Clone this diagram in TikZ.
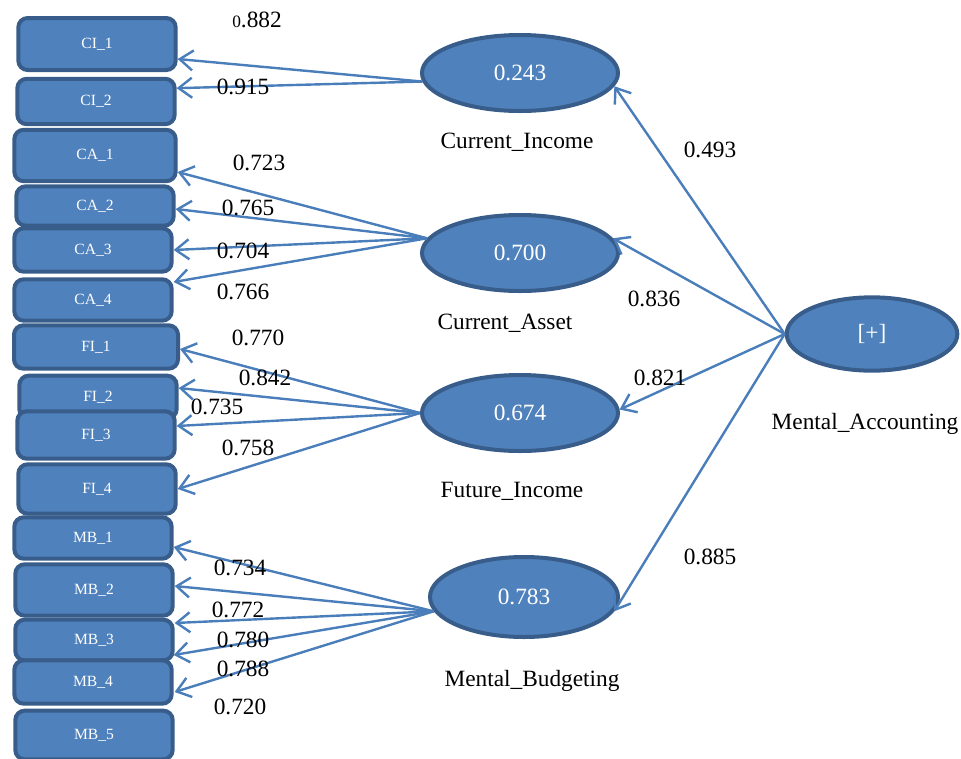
\documentclass[tikz,border=0pt]{standalone}
\usepackage{fontspec}
\setmainfont{Liberation Serif}
\usetikzlibrary{shapes.geometric,arrows.meta}
\definecolor{boxfill}{RGB}{79,129,189}
\definecolor{boxline}{RGB}{56,93,138}
\definecolor{pathline}{RGB}{74,126,187}
\tikzset{every picture/.style={line width=0.75pt}}
\tikzset{
  indicator/.style={draw=boxline, fill=boxfill, line width=3pt, rounded corners=7pt,
    minimum width=118pt, inner sep=0pt, text=white, font=\fontsize{11.7}{14}\selectfont},
  latent/.style={ellipse, draw=boxline, fill=boxfill, line width=3pt, inner sep=0pt,
    minimum width=147pt, minimum height=57pt, text=white, font=\fontsize{17.5}{20}\selectfont},
  loading/.style={draw=pathline, line width=1.8pt, -{Straight Barb[length=10pt,width=15pt]}},
  coef/.style={font=\fontsize{17.5}{20}\selectfont},
}

\begin{document}
\begin{tikzpicture}[x=0.75pt,y=0.75pt,yscale=-1,xscale=1]
\useasboundingbox (0,0) rectangle (961,758);

%Shape: Rectangles (indicators)
\node[indicator, minimum height=39pt] (ci1) at (97,44) {CI\_1};
\node[indicator, minimum height=34pt] (ci2) at (96,101.5) {CI\_2};
\node[indicator, minimum height=38.5pt, minimum width=121pt] (ca1) at (95,155.5) {CA\_1};
\node[indicator, minimum height=29.5pt] (ca2) at (95,206) {CA\_2};
\node[indicator, minimum height=32.5pt] (ca3) at (93,250) {CA\_3};
\node[indicator, minimum height=31pt] (ca4) at (93,300) {CA\_4};
\node[indicator, minimum height=32.5pt, minimum width=123pt] (fi1) at (96,347) {FI\_1};
\node[indicator, minimum height=32pt] (fi2) at (98,397) {FI\_2};
\node[indicator, minimum height=35.5pt] (fi3) at (96,435) {FI\_3};
\node[indicator, minimum height=37pt] (fi4) at (97,489) {FI\_4};
\node[indicator, minimum height=31pt] (mb1) at (93,538) {MB\_1};
\node[indicator, minimum height=38.5pt] (mb2) at (94,590) {MB\_2};
\node[indicator, minimum height=30.5pt] (mb3) at (94,640) {MB\_3};
\node[indicator, minimum height=32.5pt] (mb4) at (93,682) {MB\_4};
\node[indicator, minimum height=36.5pt] (mb5) at (94,735) {MB\_5};

%Shape: Ellipses (constructs)
\node[latent] (ci) at (520,73) {0.243};
\node[latent] (ca) at (520,253) {0.700};
\node[latent] (fi) at (520,413) {0.674};
\node[latent, minimum width=141pt, minimum height=60pt] (mb) at (524,597) {0.783};
\node[latent, minimum width=128pt, minimum height=55pt] (ma) at (872,334) {[+]};

%Straight Lines: second order
\draw[loading] (ma.west) -- (ci.-8);
\draw[loading] (ma.west) -- (ca.9);
\draw[loading] (ma.west) -- (fi.2);
\draw[loading] (ma.west) -- (mb.-9);

%Straight Lines: Current_Income
\draw[loading] (ci.185) -- ([yshift=11.25pt]ci1.east);
\draw[loading] (ci.185) -- ([yshift=-10pt]ci2.east);
%Straight Lines: Current_Asset
\draw[loading] (ca.171) -- ([yshift=12.4pt]ca1.east);
\draw[loading] (ca.171) -- ([yshift=2.25pt]ca2.east);
\draw[loading] (ca.171) -- (ca3.east);
\draw[loading] (ca.171) -- ([yshift=-13.5pt]ca4.east);
%Straight Lines: Future_Income
\draw[loading] (fi.180) -- ([yshift=1.5pt]fi1.east);
\draw[loading] (fi.180) -- ([yshift=-6.75pt]fi2.east);
\draw[loading] (fi.180) -- ([yshift=-6.75pt]fi3.east);
\draw[loading] (fi.180) -- (fi4.east);
%Straight Lines: Mental_Budgeting
\draw[loading] (mb.189) -- ([yshift=6.75pt]mb1.east);
\draw[loading] (mb.189) -- ([yshift=-3pt]mb2.east);
\draw[loading] (mb.189) -- ([yshift=-12.75pt]mb3.east);
\draw[loading] (mb.189) -- ([yshift=-20.25pt]mb4.east);
\draw[loading] (mb.189) -- ([yshift=-32.25pt]mb5.east);

% Text Node
\node[coef] (t882) at (257,20) {{\fontsize{13}{14}\selectfont 0}.882};
\node[coef] (t915) at (243,87) {0.915};
\node[coef] (t723) at (259,163) {0.723};
\node[coef] (t765) at (248,208) {0.765};
\node[coef] (t704) at (243,251) {0.704};
\node[coef] (t766) at (243,292) {0.766};
\node[coef] (t770) at (258,338) {0.770};
\node[coef] (t842) at (265,378) {0.842};
\node[coef] (t735) at (217,407) {0.735};
\node[coef] (t758) at (248,448) {0.758};
\node[coef] (t734) at (240,568) {0.734};
\node[coef] (t772) at (238,610) {0.772};
\node[coef] (t780) at (243,640) {0.780};
\node[coef] (t788) at (243,669) {0.788};
\node[coef] (t720) at (240,707) {0.720};
\node[coef] (t493) at (710,150) {0.493};
\node[coef] (t836) at (654,299) {0.836};
\node[coef] (t821) at (660,378) {0.821};
\node[coef] (t885) at (710,557) {0.885};
% Text Node
\node[coef] (lci) at (517,142) {Current\_Income};
\node[coef] (lca) at (505,323) {Current\_Asset};
\node[coef] (lfi) at (512,491) {Future\_Income};
\node[coef] (lmb) at (532,681) {Mental\_Budgeting};
\node[coef] (lma) at (865,424) {Mental\_Accounting};

\end{tikzpicture}
\end{document}
